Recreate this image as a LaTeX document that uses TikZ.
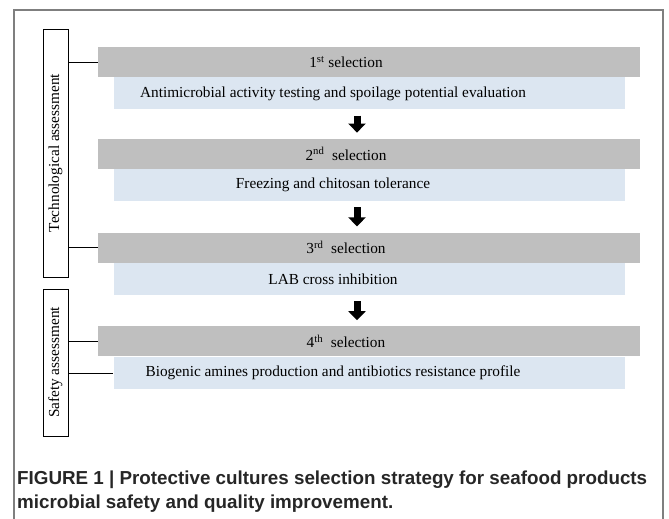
\documentclass[tikz,border=0pt]{standalone}
\usepackage{fontspec}
\setmainfont{Liberation Serif}
\newfontfamily\capfont{Liberation Sans}
\usetikzlibrary{positioning}
\usetikzlibrary{arrows.meta}
\definecolor{selgray}{HTML}{BFBFBF}
\definecolor{testblue}{HTML}{DCE6F1}
\definecolor{framegray}{HTML}{7F7F7F}
\tikzset{
  selbar/.style={fill=selgray, minimum width=542pt, minimum height=30pt, inner sep=0pt, label={[xshift=-23pt]center:#1}},
  testbar/.style={fill=testblue, minimum width=511pt, minimum height=32pt, inner sep=0pt, label={[xshift=-36pt]center:#1}},
  assessbox/.style={draw, minimum width=25pt, inner sep=0pt},
  downarrow/.style={line width=7pt, -{Triangle[width=17pt,length=9pt]}, shorten <=6pt, shorten >=6pt},
}
\begin{document}
\begin{tikzpicture}[x=1pt, y=-1pt, font=\fontsize{15.3pt}{18pt}\selectfont]
        \useasboundingbox (0,0) rectangle (669,519);%
        \draw[framegray, line width=1.2pt] (14,519) |- (663,10) -- (663,519);%
        % selection steps
        \node[selbar={1\textsuperscript{st} selection}] (g1) at (369,62) {};%
        \node[testbar={Antimicrobial activity testing and spoilage potential evaluation}, below=0pt of g1] (b1) {};%
        \node[selbar={2\textsuperscript{nd}\ \ selection}, below=29pt of b1] (g2) {};%
        \node[testbar={Freezing and chitosan tolerance}, below=0pt of g2] (b2) {};%
        \node[selbar={3\textsuperscript{rd}\ \ selection}, below=31pt of b2] (g3) {};%
        \node[testbar={LAB cross inhibition}, below=0pt of g3] (b3) {};%
        \node[selbar={4\textsuperscript{th}\ \ selection}, below=31pt of b3] (g4) {};%
        \node[testbar={Biogenic amines production and antibiotics resistance profile}, below=0pt of g4] (b4) {};%
        % assessments
        \node[assessbox, minimum height=248pt] (tech) at (55.5,153) {\rotatebox{90}{Technological assessment}};%
        \node[assessbox, minimum height=147pt] (safety) at (55.5,362.5) {\rotatebox{90}{Safety assessment}};%
        \draw (tech.east |- g1.west) -- (g1.west); %
        \draw (tech.east |- g3.west) -- (g3.west); %
        \draw (safety.east |- g4.west) -- (g4.west); %
        \draw (safety.east |- b4.west) -- (b4.west); %
        \draw[downarrow] ([xshift=-12pt]b1.south) -- ([xshift=-12pt]g2.north); %
        \draw[downarrow] ([xshift=-12pt]b2.south) -- ([xshift=-12pt]g3.north); %
        \draw[downarrow] ([xshift=-12pt]b3.south) -- ([xshift=-12pt]g4.north); %
        \node[anchor=base west, inner sep=0pt, align=left, text=black!85,
              font=\capfont\bfseries\fontsize{18.8pt}{24pt}\selectfont] (caption) at (17,508)
              {FIGURE 1 | Protective cultures selection strategy for seafood products\\microbial safety and quality improvement.};%
      \end{tikzpicture}
\end{document}
